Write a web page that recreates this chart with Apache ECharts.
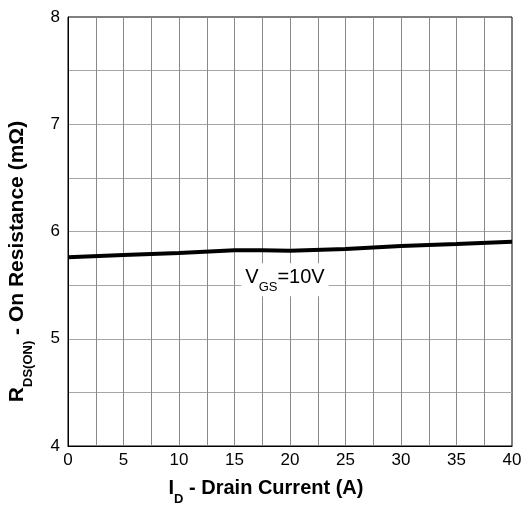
<!DOCTYPE html>
<html><head><meta charset="utf-8">
<script src="https://cdn.jsdelivr.net/npm/echarts@6/dist/echarts.min.js"></script>
<style>html,body{margin:0;padding:0;background:#fff}#c{width:526px;height:508px}</style>
</head><body><div id="c"></div>
<script>
// Data
const currentA = [0, 5, 10, 15, 17.5, 20, 25, 30, 35, 40];
const rdsOn = [5.76, 5.78, 5.80, 5.825, 5.825, 5.82, 5.837, 5.865, 5.883, 5.905];
const xTickLabels = ['0', '5', '10', '15', '20', '25', '30', '35', '40'];
const yTickLabels = ['4', '5', '6', '7', '8'];
const curveLabelPos = [19.55, 5.55];

const titleFont = "'Liberation Sans Narrow','Arial Narrow','Liberation Sans',Arial,sans-serif";
const bodyFont = "'Liberation Sans',Arial,sans-serif";

const chart = echarts.init(document.getElementById('c'), null, {renderer: 'canvas'});
function titleRich(size, subSize, subPad) {
  return {
    m: {fontSize: size, fontWeight: 'bold', fontFamily: titleFont, color: '#000', verticalAlign: 'top'},
    s: {fontSize: subSize, fontWeight: 'bold', fontFamily: titleFont, color: '#000', verticalAlign: 'top', padding: [subPad, 0, 0, 0]}
  };
}
chart.setOption({
  animation: false,
  backgroundColor: '#fff',
  grid: {left: 68, right: 14, top: 17, bottom: 62, outerBoundsMode: 'none', containLabel: false,
    show: true, borderColor: '#000', borderWidth: 1, backgroundColor: 'transparent'},
  xAxis: {
    type: 'value', min: 0, max: 40, interval: 2.5,
    axisLine: {show: true, onZero: false, lineStyle: {color: '#000', width: 1}},
    axisTick: {show: false},
    axisLabel: {
      color: '#000', fontSize: 17, fontFamily: bodyFont, margin: 6,
      formatter: v => { const s = String(v); return xTickLabels.includes(s) ? s : ''; }
    },
    splitLine: {show: true, showMinLine: false, showMaxLine: false, lineStyle: {color: '#8a8a8a', width: 1}},
    name: '{m|I}{s|D}{m| - Drain Current (A)}',
    nameLocation: 'middle', nameGap: 32,
    nameTextStyle: {rich: titleRich(20, 13, 15), padding: [0, 48, 0, 0]}
  },
  yAxis: {
    type: 'value', min: 4, max: 8, interval: 0.5,
    axisLine: {show: true, onZero: false, lineStyle: {color: '#000', width: 1}},
    axisTick: {show: false},
    axisLabel: {
      color: '#000', fontSize: 17, fontFamily: bodyFont, margin: 8,
      formatter: v => { const s = String(v); return yTickLabels.includes(s) ? s : ''; }
    },
    splitLine: {show: true, showMinLine: false, showMaxLine: false, lineStyle: {color: '#a6a6a6', width: 1}},
    name: '{m|R}{s|DS(ON)}{m| - On Resistance (mΩ)}',
    nameLocation: 'middle', nameGap: 33, nameRotate: 90,
    nameTextStyle: {rich: titleRich(21, 13, 15), padding: [0, 60, 0, 0]}
  },
  series: [{
    type: 'line',
    data: currentA.map((x, i) => [x, rdsOn[i]]),
    showSymbol: false, symbol: 'none',
    lineStyle: {color: '#000', width: 4},
    markPoint: {
      symbol: 'rect', symbolSize: 1,
      itemStyle: {color: 'rgba(0,0,0,0)'},
      label: {
        show: true, position: 'inside',
        formatter: '{m|V}{s|GS}{m|=10V}',
        backgroundColor: '#fff', padding: [4, 4, 2, 4],
        rich: {
          m: {fontSize: 20, fontFamily: bodyFont, color: '#000', verticalAlign: 'top'},
          s: {fontSize: 13, fontFamily: bodyFont, color: '#000', verticalAlign: 'top', padding: [14, 0, 0, 0]}
        }
      },
      data: [{coord: curveLabelPos}]
    }
  }]
});
</script></body></html>
